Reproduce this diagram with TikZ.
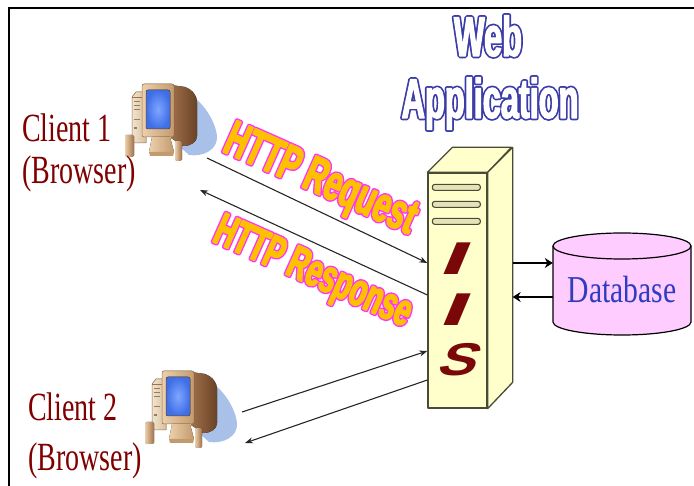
\documentclass[tikz,border=0pt]{standalone}
\usepackage{fontspec}
\setmainfont{Liberation Serif}
\newfontfamily\clientfont[FakeStretch=0.7]{Liberation Serif}
\newfontfamily\dbfont[FakeStretch=0.78]{Liberation Serif}
\newfontfamily\narrowfont[FakeStretch=0.58]{Liberation Sans}
\newfontfamily\httpfont[FakeStretch=0.6]{Liberation Sans}
\newfontfamily\iisfont{Liberation Sans}
\usetikzlibrary{arrows.meta,calc}

\definecolor{labelred}{HTML}{800000}
\definecolor{iisred}{HTML}{7A0808}
\definecolor{titleblue}{HTML}{3C3CA8}
\definecolor{httpgold}{HTML}{FFC000}
\definecolor{httpmag}{HTML}{FF33FF}
\definecolor{dbpink}{HTML}{FFCCFF}
\definecolor{dbblue}{HTML}{2E3CC0}
\definecolor{iisfill}{HTML}{FFFFCC}
\definecolor{iisline}{HTML}{4A4A38}
\definecolor{ventfill}{HTML}{E6E2B8}
\definecolor{pcshadow}{HTML}{A9C1E8}
\definecolor{pcbrown}{HTML}{A0704A}
\definecolor{pcdark}{HTML}{6A4226}
\definecolor{bezellight}{HTML}{EBD0AC}
\definecolor{bezeldark}{HTML}{C39A6E}
\definecolor{towerbeige}{HTML}{E6D3B0}
\definecolor{screenblue}{HTML}{3F6FE6}
\definecolor{screenlight}{HTML}{7FA6FF}

% Outlined lettering: a wide stroke in the edge colour underneath,
% then the letters in the current colour, slightly emboldened.
% #1 edge colour, #2 edge stroke width, #3 emboldening width, #4 text
\newcommand\edgedtext[4]{%
  \rlap{\color{#1}\special{pdf:literal direct 2 Tr #2 w 1 j}#4\special{pdf:literal direct 0 Tr}}%
  \special{pdf:literal direct 2 Tr #3 w 1 j}#4\special{pdf:literal direct 0 Tr}}

\tikzset{
  frameline/.style={line width=2pt, black},
  link/.style={draw=black!85, line width=1.1pt, -{Stealth[length=8pt,width=6pt]}},
  dblink/.style={draw=black, line width=2.6pt, -{Stealth[length=8pt,width=10pt]}},
  iconbox/.style={inner sep=0pt, minimum width=92pt, minimum height=78pt, anchor=north west},
  clientlbl/.style={inner sep=0pt, text=labelred, align=left, anchor=base west},
  titletext/.style={inner sep=0pt, text=white, anchor=base,
    font=\narrowfont\bfseries\fontsize{56}{60}\selectfont},
  httptext/.style={inner sep=0pt, text=httpgold, rotate=-24, anchor=base west},
  iisletter/.style={inner sep=0pt, text=iisred, xslant=0.42,
    font=\iisfont\bfseries\fontsize{46}{50}\selectfont},
  serverface/.style={draw=iisline, line width=1.3pt, fill=iisfill, line join=round},
  vent/.style={draw=iisline, line width=1.1pt, fill=ventfill, rounded corners=2.5pt},
  dbbody/.style={draw=black, line width=1.2pt, fill=dbpink},
  dbtext/.style={inner sep=0pt, minimum width=138pt, text=dbblue,
    font=\dbfont\fontsize{38}{40}\selectfont},
  pics/computer/.style={code={
    % soft shadow behind the monitor
    \fill[pcshadow] (56,6) .. controls (74,12) and (90,34) .. (92,52)
      .. controls (93,66) and (78,73) .. (64,71) -- (54,62) -- cycle;
    % back of the CRT
    \fill[left color=pcbrown, right color=pcdark] (46,1) -- (60,3)
      .. controls (68,6) and (72,12) .. (72,18) -- (72,52)
      .. controls (72,58) and (66,62) .. (58,62) -- (46,54) -- cycle;
    % tower
    \fill[left color=towerbeige!60!white, right color=towerbeige!80!pcbrown]
      (7,13) -- (11,8) -- (21,8) -- (21,59) -- (7,59) -- cycle;
    \draw[pcbrown, line width=0.5pt] (7,13) -- (11,8) -- (21,8) -- (21,59) -- (7,59) -- cycle;
    \draw[pcbrown, line width=0.5pt] (7,13) -- (17,13);
    \draw[pcdark!70, line width=0.6pt] (9,17) -- (15,17) (9,21) -- (15,21)
      (9,25) -- (15,25) (9,35) -- (15,35);
    \fill[pcdark!70] (9,43) rectangle (12,45);
    % left speaker
    \fill[left color=bezellight, right color=pcbrown, rounded corners=1.5pt] (0,51) rectangle (9,73);
    % monitor bezel and screen
    \fill[left color=bezellight, right color=bezeldark, rounded corners=2pt] (17,0) rectangle (49,53);
    \draw[pcbrown, line width=0.5pt, rounded corners=2pt] (17,0) rectangle (49,53);
    \fill[inner color=screenlight, outer color=screenblue, rounded corners=2pt] (21,6) rectangle (45,45);
    \draw[pcdark, line width=0.5pt, rounded corners=2pt] (21,6) rectangle (45,45);
    % stand
    \fill[left color=bezellight, right color=bezeldark] (27,53) -- (45,53) -- (49,68) -- (24,68) -- cycle;
    \fill[bezeldark] (24,68) -- (49,68) -- (48,72) -- (25,72) -- cycle;
    % right speaker
    \fill[left color=bezellight, right color=pcbrown, rounded corners=1.5pt] (50,57) rectangle (57,77);
  }}
}

\begin{document}
\begin{tikzpicture}[x=1pt,y=-1pt]
\useasboundingbox (0,0) rectangle (694,486);

% page frame (top and left edges)
\draw[frameline] (8.5,486) -- (8.5,8.5) -- (694,8.5);

% heading
\node[titletext] (web) at (488,56) {\edgedtext{titleblue}{4.6}{1.2}{Web}};
\node[titletext] (app) at (490,118) {\edgedtext{titleblue}{4.6}{1.2}{Application}};

% clients
\node[iconbox] (c1) at (125,84) {};
\pic at (c1.north west) {computer};
\node[iconbox] (c2) at (145,371) {};
\pic at (c2.north west) {computer};

\node[clientlbl, font=\clientfont\fontsize{40}{42}\selectfont] (c1lbl) at (22,183.5) {Client 1\\(Browser)};
\node[clientlbl, font=\clientfont\fontsize{40}{49.5}\selectfont] (c2lbl) at (28,470) {Client 2\\(Browser)};

% IIS server box
\node[serverface, minimum width=59pt, minimum height=235pt, inner sep=0pt] (iis) at (457.5,290.5) {};
\draw[serverface] (iis.north west) -- ++(25,-25) -- ++(59,0) -- (iis.north east) -- cycle;
\draw[serverface] (iis.north east) -- ++(25,-25) -- ++(0,235) -- (iis.south east) -- cycle;
\draw[vent] ($(iis.north west)+(5,12)$) rectangle ++(48,6);
\draw[vent] ($(iis.north west)+(5,29)$) rectangle ++(48,6);
\draw[vent] ($(iis.north west)+(5,46)$) rectangle ++(48,6);

\node[iisletter] (iisI1) at (458,259) {\scalebox{2.1}[1]{I}};
\node[iisletter] (iisI2) at (458,309.5) {\scalebox{2.1}[1]{I}};
\node[iisletter] (iisS) at (461,359.5) {\scalebox{1.25}[1]{S}};

% database
\fill[dbbody, draw=none] (553,246) -- (553,322) arc[start angle=180, end angle=0, x radius=69, y radius=13]
  -- (691,246) arc[start angle=0, end angle=-180, x radius=69, y radius=13] -- cycle;
\draw[dbbody, fill=none] (553,246) -- (553,322) arc[start angle=180, end angle=0, x radius=69, y radius=13]
  -- (691,246);
\draw[dbbody] (622,246) ellipse[x radius=69, y radius=13];
\node[dbtext] (db) at (622,290) {Database};

% HTTP captions
\node[httptext, font=\httpfont\bfseries\fontsize{50}{54}\selectfont] (req) at (221,151)
  {\edgedtext{httpmag}{4.4}{1.6}{HTTP Request}};
\node[httptext, font=\httpfont\bfseries\fontsize{46}{50}\selectfont] (resp) at (211,241)
  {\edgedtext{httpmag}{4.4}{1.6}{HTTP Response}};

% request / response traffic
\coordinate (c1out) at ($(c1.north west)+(82,74)$);
\coordinate (c1in)  at ($(c1.north west)+(75,106)$);
\coordinate (c2out) at ($(c2.north west)+(97,41)$);
\coordinate (c2in)  at ($(c2.north west)+(100,72)$);
\draw[link] (c1out) -- ($(iis.west)+(0,-27.5)$);
\draw[link] ($(iis.west)+(0,4.5)$) -- (c1in);
\draw[link] (c2out) -- ($(iis.west)+(0,60.5)$);
\draw[link] ($(iis.west)+(0,89.5)$) -- (c2in);

% server <-> database
\draw[dblink] ($(iis.east)+(25,-27.5)$) -- ($(db.west)+(0,-27)$);
\draw[dblink] ($(db.west)+(0,7)$) -- ($(iis.east)+(25,6.5)$);
\end{tikzpicture}
\end{document}
